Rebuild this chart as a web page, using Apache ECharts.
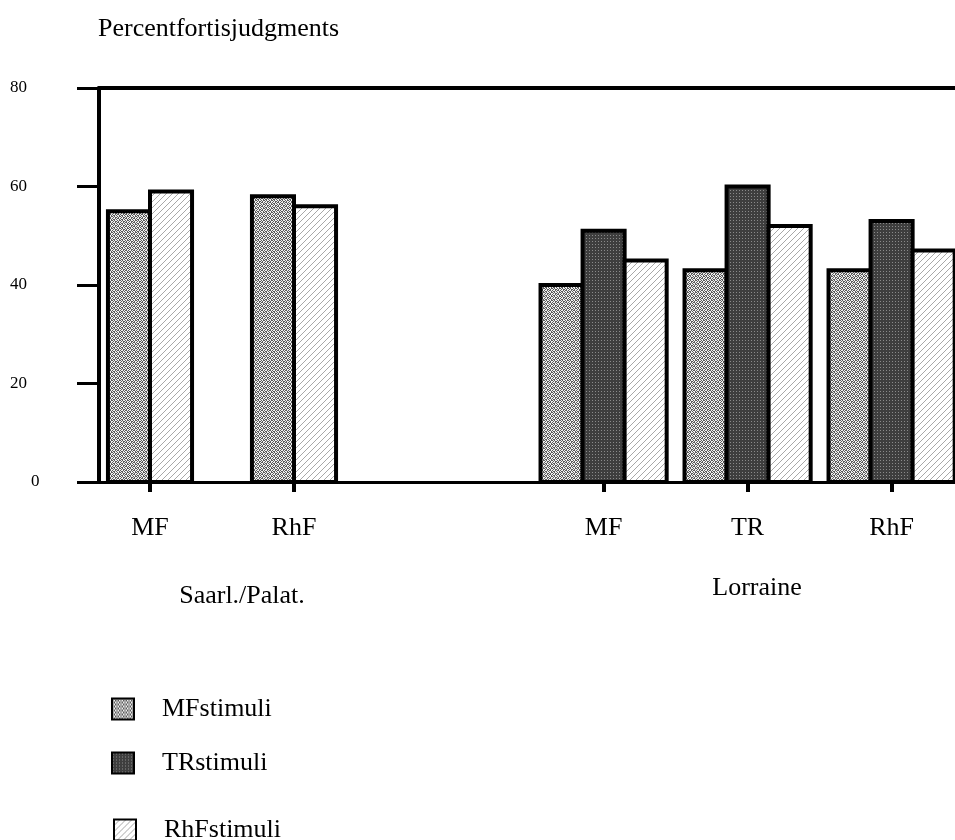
<!DOCTYPE html>
<html>
<head>
<meta charset="utf-8">
<script src="https://cdn.jsdelivr.net/npm/echarts@6/dist/echarts.min.js"></script>
<style>
  html, body { margin: 0; padding: 0; background: #fff; }
  #chart { width: 955px; height: 840px; }
</style>
</head>
<body>
<div id="chart"></div>
<script>
// bar groups along the x axis (axis units, one unit per group step)
const groupLabels = ['MF', 'RhF', 'MF', 'TR', 'RhF'];
const groupPos = [1, 2, 4.15, 5.15, 6.15];
const stimNames = ['MFstimuli', 'TRstimuli', 'RhFstimuli'];

// percent fortis judgments, per stimulus type
const mfStimuli = [55, 58, 40, 43, 43];
const trStimuli = [null, null, 51, 60, 53];
const rhfStimuli = [59, 56, 45, 52, 47];

const yTicks = [0, 20, 40, 60, 80];

const allVals = [mfStimuli, trStimuli, rhfStimuli];
const barUnit = 0.292;
const FONT = '"Liberation Serif", "DejaVu Serif", serif';

// little fill textures like the printed figure
const makeTile = (w, h, draw) => {
  const c = document.createElement('canvas');
  c.width = w; c.height = h;
  draw(c.getContext('2d'));
  return { image: c, repeat: 'repeat' };
};

const stipple = makeTile(8, 8, ctx => {
  const mask = [
    '10100101',
    '01011010',
    '10010110',
    '01101001',
    '10100101',
    '01011010',
    '10010110',
    '01101001'
  ];
  ctx.fillStyle = '#f0f0f0';
  ctx.fillRect(0, 0, 8, 8);
  ctx.fillStyle = '#5a5a5a';
  mask.forEach((row, y) => {
    row.split('').forEach((m, x) => { if (m === '1') ctx.fillRect(x, y, 1, 1); });
  });
});

const darkDots = makeTile(3, 3, ctx => {
  ctx.fillStyle = '#3e3e3e';
  ctx.fillRect(0, 0, 3, 3);
  ctx.fillStyle = '#8a8a8a';
  ctx.fillRect(1, 1, 1, 1);
});

const hatch = makeTile(6, 6, ctx => {
  ctx.fillStyle = '#fff';
  ctx.fillRect(0, 0, 6, 6);
  ctx.fillStyle = '#a8a8a8';
  for (let i = 0; i < 6; i++) ctx.fillRect(i, 5 - i, 1, 1);
});

const fills = [stipple, darkDots, hatch];

const renderBar = (params, api) => {
  const gi = api.value(2);
  const present = allVals.map(v => v[gi] != null);
  const n = present.filter(Boolean).length;
  let order = 0;
  for (let k = 0; k < params.seriesIndex; k++) if (present[k]) order++;
  const base = api.coord([api.value(0), 0]);
  const top = api.coord([api.value(0), api.value(1)]);
  const w = api.size([barUnit, 0])[0];
  return {
    type: 'rect',
    shape: { x: base[0] - n * w / 2 + order * w, y: top[1], width: w, height: base[1] - top[1] },
    style: { fill: fills[params.seriesIndex], stroke: '#000', lineWidth: 4 }
  };
};

const xMin = 1 - 51 / 144;
const xMax = 1 + 805 / 144;

const legendTop = [691, 745, 812];
const legendLeft = [106, 106, 108];

const chart = echarts.init(document.getElementById('chart'));
chart.setOption({
  animation: false,
  title: {
    text: 'Percentfortisjudgments',
    left: 93,
    top: 11,
    textStyle: { fontFamily: FONT, fontSize: 26, fontWeight: 'normal', color: '#000' }
  },
  grid: { left: 99, right: 0, top: 88, bottom: 358 },
  legend: stimNames.map((name, k) => ({
    data: [{ name: name, itemStyle: { color: fills[k] } }],
    left: legendLeft[k],
    top: legendTop[k],
    icon: 'rect',
    itemWidth: 22,
    itemHeight: 21,
    selectedMode: false,
    itemStyle: { borderColor: '#000', borderWidth: 2 },
    textStyle: { fontFamily: FONT, fontSize: 26, color: '#000', padding: [0, 0, 0, 23] }
  })),
  xAxis: [
    {
      type: 'value',
      min: xMin,
      max: xMax,
      splitLine: { show: false },
      axisLine: { show: true, lineStyle: { color: '#000', width: 3 } },
      axisTick: { show: true, customValues: groupPos, length: 10, lineStyle: { color: '#000', width: 4 } },
      axisLabel: {
        customValues: groupPos,
        margin: 33,
        fontFamily: FONT,
        fontSize: 26,
        color: '#000',
        formatter: v => groupLabels[groupPos.findIndex(p => Math.abs(p - v) < 1e-6)] || ''
      }
    },
    {
      type: 'value',
      position: 'top',
      min: xMin,
      max: xMax,
      splitLine: { show: false },
      axisLine: { show: true, onZero: false, lineStyle: { color: '#000', width: 4 } },
      axisTick: { show: false },
      axisLabel: { show: false }
    }
  ],
  yAxis: {
    type: 'value',
    min: yTicks[0],
    max: yTicks[yTicks.length - 1],
    interval: 20,
    splitLine: { show: false },
    axisLine: { show: true, lineStyle: { color: '#000', width: 4 } },
    axisTick: { show: true, length: 22, lineStyle: { color: '#000', width: 3 } },
    axisLabel: {
      align: 'left',
      margin: 89,
      fontFamily: FONT,
      fontSize: 17,
      color: '#000',
      formatter: v => (v === 0 ? '{z|0}' : String(v)),
      rich: { z: { fontFamily: FONT, fontSize: 17, color: '#000', padding: [0, 0, 0, 21] } }
    }
  },
  graphic: [
    {
      type: 'text', x: 242, y: 596,
      style: { text: 'Saarl./Palat.', fontFamily: FONT, fontSize: 26, fill: '#000', align: 'center', verticalAlign: 'middle' }
    },
    {
      type: 'text', x: 757, y: 588,
      style: { text: 'Lorraine', fontFamily: FONT, fontSize: 26, fill: '#000', align: 'center', verticalAlign: 'middle' }
    }
  ],
  series: allVals.map((vals, k) => ({
    name: stimNames[k],
    type: 'custom',
    xAxisIndex: 0,
    itemStyle: { color: fills[k], borderColor: '#000', borderWidth: 2 },
    encode: { x: 0, y: 1 },
    renderItem: renderBar,
    data: groupPos
      .map((p, i) => (vals[i] == null ? null : [p, vals[i], i]))
      .filter(Boolean)
  }))
});
</script>
</body>
</html>
